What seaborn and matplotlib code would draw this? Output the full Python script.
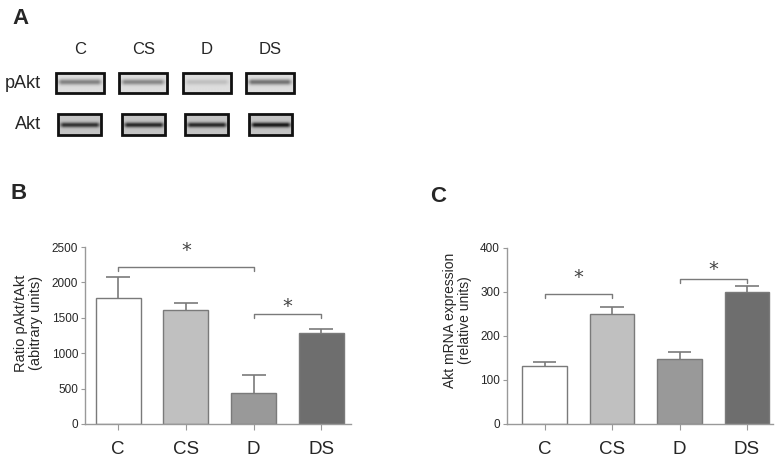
import numpy as np
import pandas as pd
import matplotlib
matplotlib.use("Agg")
import matplotlib.pyplot as plt
import seaborn as sns

# groups shared by all panels
groups = ["C", "CS", "D", "DS"]
bar_colors = ["#ffffff", "#c0c0c0", "#999999", "#6e6e6e"]

# panel A: blot band intensity (0 = none, 1 = black), read by eye
pakt_band = [0.36, 0.34, 0.12, 0.42]
akt_band = [0.58, 0.62, 0.62, 0.68]

# panel B: ratio pAkt/tAkt
ratio_mean = [1780, 1610, 438, 1285]
ratio_err = [300, 100, 255, 60]

# panel C: Akt mRNA expression
mrna_mean = [132, 250, 147, 300]
mrna_err = [9, 15, 17, 14]

sns.set_style("ticks")
plt.rcParams["font.family"] = ["Liberation Sans", "DejaVu Sans"]

W, H = 781, 459
fig = plt.figure(figsize=(W / 100, H / 100), dpi=100)


def px_axes(left, top, right, bottom):
    return fig.add_axes([left / W, 1 - bottom / H, (right - left) / W, (bottom - top) / H])


line_gray = "#7a7a7a"

# ---------------- panel A: blots ----------------
axA = px_axes(48, 62.25, 302, 145.25)
axA.axis("off")

# name, bands, box width, box height, background, band centre (frac from top), sigma (frac)
rows = [("pAkt", pakt_band, 0.755, 0.48, 0.87, 0.45, 0.10),
        ("Akt", akt_band, 0.68, 0.50, 0.77, 0.52, 0.085)]
yy = np.linspace(0, 1, 80)[:, None]
xx = np.linspace(0, 1, 80)[None, :]
taper = np.clip(np.minimum(xx, 1 - xx) / 0.12, 0, 1)
for r, (name, bands, bw, bh, bg, cen, sig) in enumerate(rows):
    for i, inten in enumerate(bands):
        img = bg - inten * np.exp(-((yy - cen) / sig) ** 2 / 2) * taper
        axA.imshow(img, cmap="gray", vmin=0, vmax=1, aspect="auto",
                   extent=[i - bw / 2, i + bw / 2, r + bh / 2, r - bh / 2],
                   interpolation="bilinear", zorder=1)
        axA.add_patch(plt.Rectangle((i - bw / 2, r - bh / 2), bw, bh, fill=False,
                                    edgecolor="#111111", linewidth=2, zorder=2))
    axA.text(-0.61, r, name, ha="right", va="center", fontsize=13, clip_on=False)
for i, g in enumerate(groups):
    axA.text(i, -0.63, g, ha="center", va="bottom", fontsize=12, clip_on=False)
axA.set_xlim(-0.5, 3.5)
axA.set_ylim(1.5, -0.5)


def bar_panel(ax, means, errs, ylim, yticks, ylabel, xlim, ylabel_size):
    df = pd.DataFrame({"group": groups, "value": means})
    sns.barplot(data=df, x="group", y="value", hue="group", palette=bar_colors,
                legend=False, width=0.665, edgecolor=line_gray, linewidth=1,
                ax=ax, zorder=2)
    # upper error bars only
    xs = np.arange(len(groups))
    tops = np.array(means) + np.array(errs)
    ax.vlines(xs, means, tops, color=line_gray, lw=1.2, zorder=1)
    ax.hlines(tops, xs - 0.177, xs + 0.177, color=line_gray, lw=1.2, zorder=1)
    ax.set_xlim(*xlim)
    ax.set_ylim(*ylim)
    ax.set_yticks(yticks)
    ax.set_xlabel("")
    ax.set_ylabel(ylabel, fontsize=ylabel_size, linespacing=1.1)
    sns.despine(ax=ax)
    for s in ["left", "bottom"]:
        ax.spines[s].set_color("#999999")
        ax.spines[s].set_linewidth(1)
    ax.tick_params(axis="y", labelsize=8.5, length=3, color="#999999", pad=2)
    ax.tick_params(axis="x", labelsize=13.5, length=4, color="#999999", pad=8)


def bracket(ax, x1, x2, y, tip, star_y):
    ax.plot([x1, x1, x2, x2], [y - tip, y, y, y - tip], color=line_gray, lw=1,
            clip_on=False)
    ax.text((x1 + x2) / 2, star_y, "*", ha="center", va="center", fontsize=14,
            family="DejaVu Sans", color="#444444", clip_on=False)


# ---------------- panel B ----------------
axB = px_axes(85, 247, 351, 424)
bar_panel(axB, ratio_mean, ratio_err, (0, 2500), [0, 500, 1000, 1500, 2000, 2500],
          "Ratio pAkt/tAkt\n(abitrary units)", (-0.49, 3.44), 10.5)
axB.yaxis.set_label_coords(-0.158, 0.57)
bracket(axB, 0, 2, 2218, 60, 2450)
bracket(axB, 2, 3, 1554, 60, 1665)

# ---------------- panel C ----------------
axC = px_axes(507, 248, 773, 424)
bar_panel(axC, mrna_mean, mrna_err, (0, 400), [0, 100, 200, 300, 400],
          "Akt mRNA expression\n(relative units)", (-0.556, 3.385), 10)
axC.yaxis.set_label_coords(-0.132, 0.59)
bracket(axC, 0, 1, 295, 9, 332)
bracket(axC, 2, 3, 330, 9, 351)

# panel letters
for lbl, x, y in [("A", 12, 8), ("B", 11, 183), ("C", 430, 186)]:
    fig.text(x / W, 1 - y / H, lbl, fontsize=16, fontweight="bold", ha="left", va="top")

fig.savefig("out.png", dpi=100)
